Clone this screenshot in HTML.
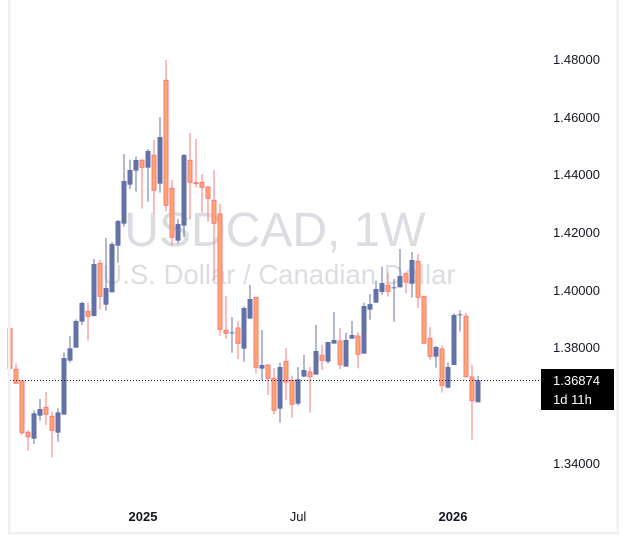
<!DOCTYPE html>
<html><head><meta charset="utf-8"><style>
html,body{margin:0;padding:0;background:#fff;}
svg{display:block;font-family:"Liberation Sans",sans-serif;}
</style></head><body>
<svg id="s" width="629" height="551" viewBox="0 0 629 551" xmlns="http://www.w3.org/2000/svg">
<rect x="0" y="0" width="629" height="551" fill="#fff"/>
<text x="275" y="246" font-size="48" fill="#dcdde2" text-anchor="middle">USDCAD, 1W</text>
<text x="279" y="284" font-size="27.5" fill="#dcdde2" text-anchor="middle">U.S. Dollar / Canadian Dollar</text>
<g id="c"></g>
<line x1="10" y1="380.5" x2="541" y2="380.5" stroke="#131722" stroke-width="1" stroke-dasharray="1,2"/>
<rect x="8" y="0" width="2.5" height="535" fill="#f1f1f1"/>
<rect x="8" y="532" width="611" height="2.5" fill="#f1f1f1"/>
<rect x="616.5" y="0" width="2.5" height="535" fill="#f1f1f1"/>
<g font-size="13" fill="#131722">
<text x="553" y="64">1.48000</text>
<text x="553" y="122">1.46000</text>
<text x="553" y="179">1.44000</text>
<text x="553" y="237">1.42000</text>
<text x="553" y="295">1.40000</text>
<text x="553" y="352">1.38000</text>
<text x="553" y="468">1.34000</text>
</g>
<rect x="541" y="369" width="73" height="41" fill="#000"/>
<text x="553" y="385" font-size="13" fill="#fff">1.36874</text>
<text x="553" y="404" font-size="13" fill="#fff">1d 11h</text>
<text x="143" y="521" font-size="13" font-weight="bold" fill="#131722" text-anchor="middle">2025</text>
<text x="298" y="521" font-size="13" fill="#131722" text-anchor="middle">Jul</text>
<text x="453" y="521" font-size="13" font-weight="bold" fill="#131722" text-anchor="middle">2026</text>
</svg>
<script>
var A=[
[0,865,985,795,990],[0,988,1030,970,1030],[0,1023,1178,1023,1185],[0,1177,1190,1170,1232],[1,1196,1120,1112,1212],[1,1127,1107,1077,1142],[0,1102,1123,1056,1155],[0,1129,1171,1115,1252],[1,1178,1117,1105,1205],[1,1124,954,937,1124],[1,962,925,888,968],[1,923,843,838,923],[1,845,789,785,855],[0,814,829,787,902],[1,828,672,657,830],[0,670,769,660,808],[1,794,744,594,812],[1,757,612,606,757],[1,617,543,540,668],[1,551,423,342,560],[1,434,390,359,447],[1,392,360,349,455],[0,361,382,357,506],[1,383,333,327,485],[0,346,451,300,520],[1,431,291,231,458],[0,121,496,60,514],[0,445,592,420,617],[1,602,552,537,611],[1,557,345,342,591],[0,361,427,279,538],[0,428,430,297,442],[0,427,442,402,518],[0,441,475,438,545],[0,481,550,390,722],[0,522,868,492,887],[0,871,880,768,896],[1,880,877,831,938],[0,864,910,843,957],[1,926,804,799,965],[1,836,777,735,836]];
var B=[
[0,202,412,202,430],[1,416,405,300,450],[0,405,445,405,495],[0,445,541,414,553],[1,536,411,398,578],[0,394,456,354,510],[0,451,523,437,563],[1,521,448,411,527],[1,440,420,375,440],[0,426,440,411,548],[1,434,363,285,434],[0,376,391,345,420],[1,395,336,336,400],[1,341,330,246,341],[0,333,404,294,417],[1,410,330,308,410],[1,326,315,273,326],[0,318,373,307,415],[1,371,228,218,371],[1,239,222,192,269],[1,218,177,152,218],[1,186,159,110,194],[0,166,184,128,200],[1,174,172,147,275],[1,172,138,57,172],[0,131,156,127,190],[1,161,90,66,203],[0,94,202,72,234],[0,199,340,199,340],[0,325,379,291,389],[1,380,351,348,413],[0,357,466,346,488],[1,473,411,398,475],[1,405,255,250,405],[1,254,253,241,305],[0,259,440,249,443],[0,441,512,404,629],[1,517,451,438,517]];
var g=document.getElementById('c'),h='';
function add(i,d,off){
 var cx=16+6*i,o=off+d[1]/3,c=off+d[2]/3,hi=off+d[3]/3,lo=off+d[4]/3;
 var t=Math.min(o,c),b=Math.max(o,c);if(b-t<1)b=t+1;
 var up=d[0]==1,col=up?'#6371a9':'#f87a7f';
 h+='<line x1="'+(cx)+'" y1="'+Math.min(hi,t)+'" x2="'+cx+'" y2="'+Math.max(lo,b)+'" stroke="'+col+'" stroke-width="1"/>';
 if(up)h+='<rect x="'+(cx-2.5)+'" y="'+t+'" width="5" height="'+(b-t)+'" fill="#6371a9"/>';
 else h+='<rect x="'+(cx-2)+'" y="'+t+'" width="4" height="'+Math.max(b-t-0,1)+'" fill="#fca86c" stroke="#f87a7f" stroke-width="1"/>';
}
for(var i=0;i<A.length;i++)add(i-1,A[i],40);
for(var j=0;j<B.length;j++)add(40+j,B[j],230);
g.innerHTML=h;
</script>
</body></html>
